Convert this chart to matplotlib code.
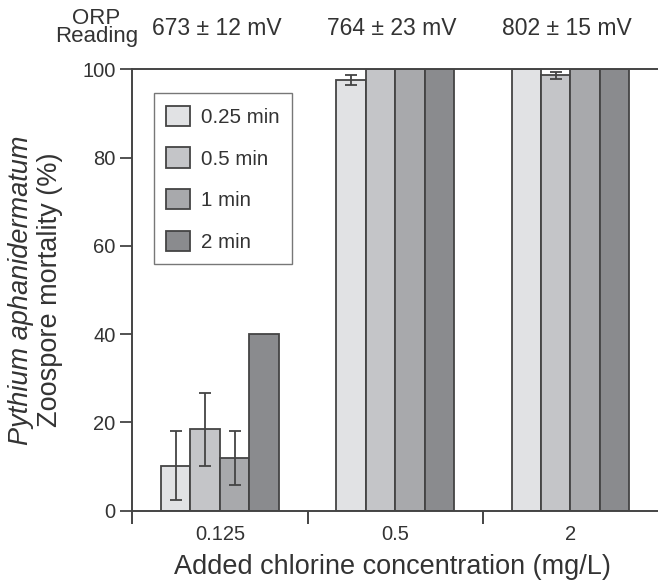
import numpy as np
import matplotlib
matplotlib.use("Agg")
from matplotlib import pyplot as plt

plt.rcParams['font.family'] = ['Liberation Sans', 'DejaVu Sans']

# data
concentrations = ['0.125', '0.5', '2']
orp_labels = ['673 ± 12 mV', '764 ± 23 mV', '802 ± 15 mV']
times = ['0.25 min', '0.5 min', '1 min', '2 min']
mortality = {
    '0.25 min': [10.2, 97.6, 100.0],
    '0.5 min': [18.4, 100.0, 98.6],
    '1 min': [12.0, 100.0, 100.0],
    '2 min': [40.0, 100.0, 100.0],
}
errors = {
    '0.25 min': [7.8, 1.1, 0.0],
    '0.5 min': [8.2, 0.0, 0.8],
    '1 min': [6.1, 0.0, 0.0],
    '2 min': [0.0, 0.0, 0.0],
}
colors = ['#e1e2e4', '#c4c5c8', '#a8a9ac', '#8a8b8e']

ink = '#444444'
txt = '#333333'

fig = plt.figure(figsize=(6.58, 5.87), dpi=100)
ax = fig.add_axes([132.3 / 658, 1 - 510.7 / 587, (658 - 132.3) / 658, (510.7 - 69.3) / 587])

x = np.arange(len(concentrations))
width = 0.168
for i, t in enumerate(times):
    pos = x + (i - 1.5) * width
    ax.bar(pos, mortality[t], width, color=colors[i], edgecolor=ink, linewidth=1.3,
           label=t, zorder=2)
    err = np.array(errors[t])
    m = err > 0
    if m.any():
        ax.errorbar(pos[m], np.array(mortality[t])[m], yerr=err[m], fmt='none',
                    ecolor=ink, elinewidth=1.3, capsize=4, capthick=1.3, zorder=3)

ax.set_xlim(-0.5, 2.5)
ax.set_ylim(0, 100)

for s in ['left', 'bottom', 'top']:
    ax.spines[s].set_color(ink)
    ax.spines[s].set_linewidth(1.4)
ax.spines['right'].set_visible(False)

ax.set_yticks([0, 20, 40, 60, 80, 100])
ax.tick_params(axis='y', direction='out', length=9, width=1.3, color=ink,
               labelsize=14.5, labelcolor=txt, pad=3)
ax.set_xticks(x)
ax.set_xticklabels(concentrations)
ax.set_xticks([-0.5, 0.5, 1.5], minor=True)
ax.tick_params(axis='x', which='major', length=0, labelsize=14.5, labelcolor=txt, pad=10)
ax.tick_params(axis='x', which='minor', direction='out', length=9, width=1.4, color=ink)

ax.set_xlabel('Added chlorine concentration (mg/L)', fontsize=19.5, color=txt)
ax.xaxis.set_label_coords(0.495, -0.098)

# two-line y label, first line italic
ax.text(-0.212, 0.5, 'Pythium aphanidermatum', transform=ax.transAxes, rotation=90,
        ha='center', va='center', fontsize=19.5, style='italic', color=txt)
ax.text(-0.157, 0.5, 'Zoospore mortality (%)', transform=ax.transAxes, rotation=90,
        ha='center', va='center', fontsize=19.5, color=txt)

# ORP readings above groups
for xi, lab in zip(x, orp_labels):
    ax.text(xi - 0.02, 1.092, lab, transform=ax.get_xaxis_transform(), ha='center',
            va='center', fontsize=16.5, color=txt)
fig.text(96.5 / 658, 1 - 27.5 / 587, 'ORP\nReading', ha='center', va='center', fontsize=16,
         color=txt, linespacing=0.8)

leg = ax.legend(loc='upper left', bbox_to_anchor=((154 - 132.3) / 525.7, (510.7 - 93.3) / 441.4),
                borderaxespad=0, fontsize=14.8, frameon=True, fancybox=False,
                handlelength=1.15, handleheight=1.15, labelspacing=1.0, handletextpad=0.52,
                borderpad=0.6)
leg.get_frame().set_edgecolor('#555555')
leg.get_frame().set_linewidth(1.0)
for t in leg.get_texts():
    t.set_color(txt)

fig.savefig('out.png', dpi=100)
